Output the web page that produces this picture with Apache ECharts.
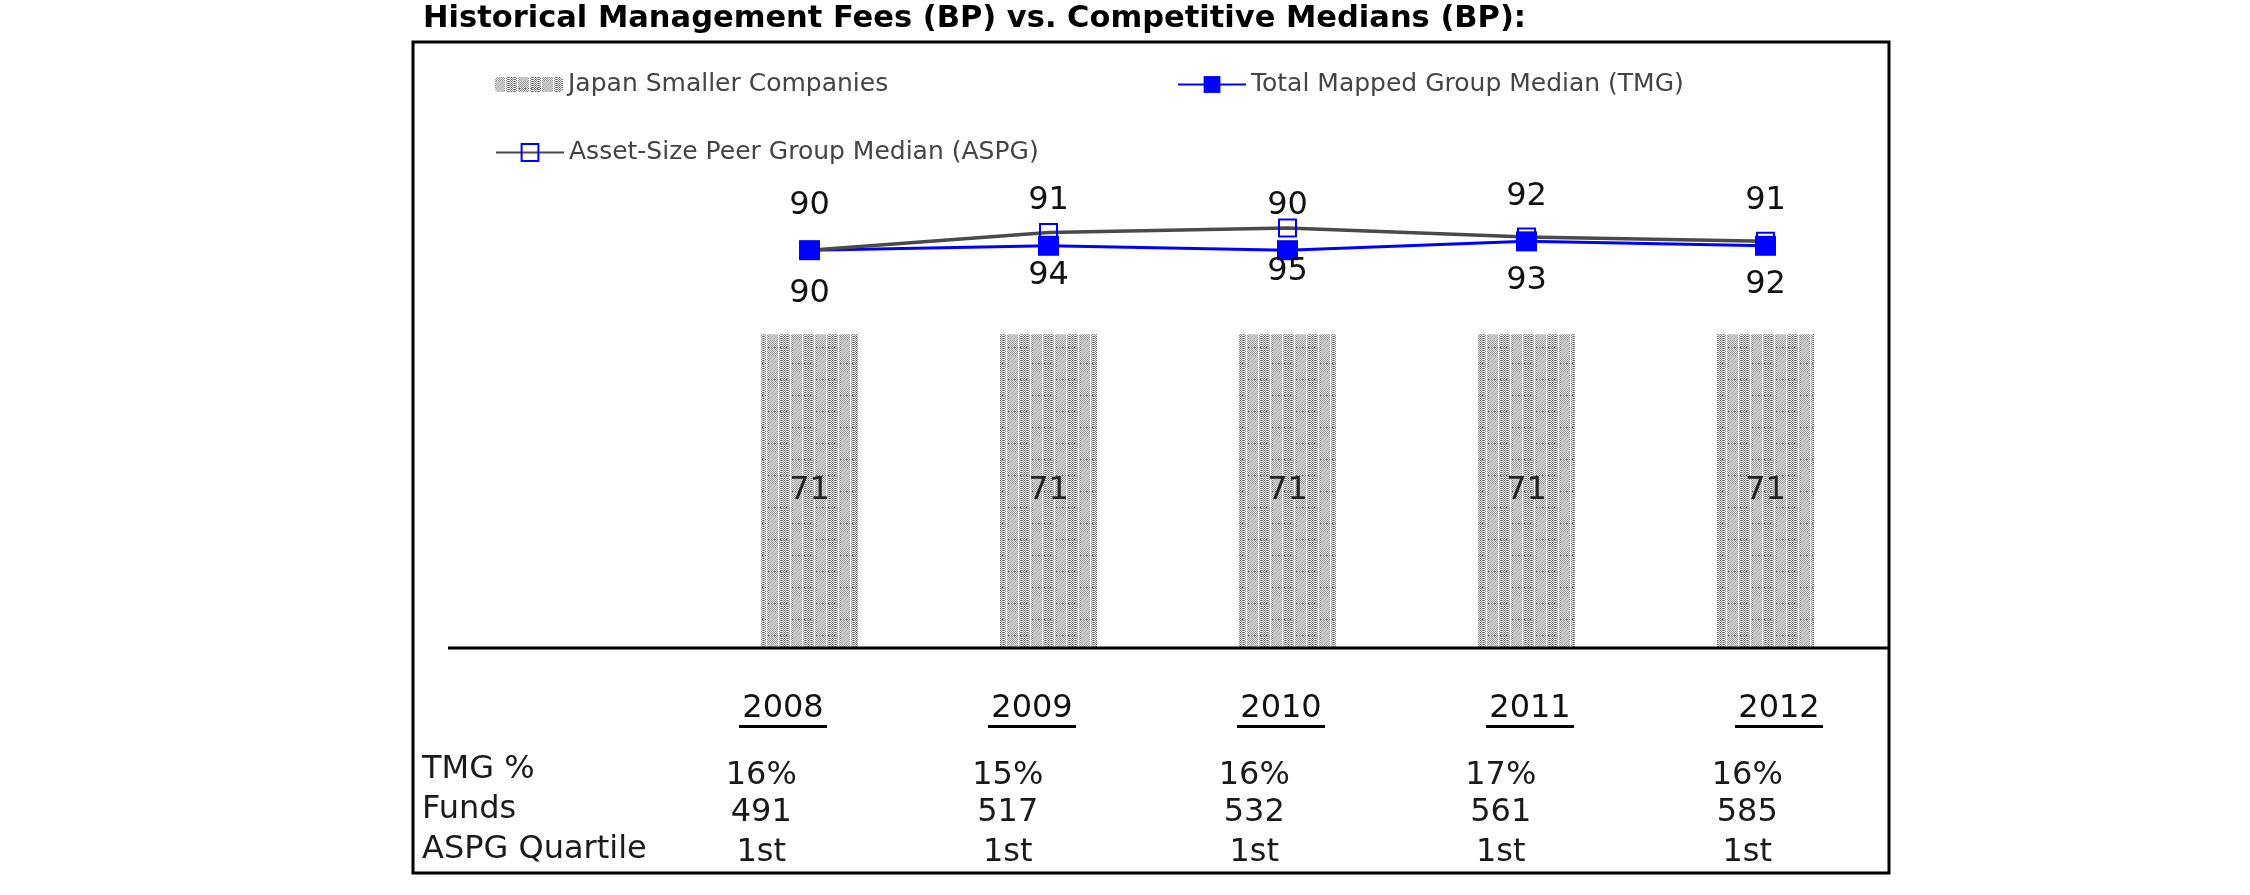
<!DOCTYPE html>
<html><head><meta charset="utf-8">
<script src="https://cdn.jsdelivr.net/npm/echarts@6/dist/echarts.min.js"></script>
<style>html,body{margin:0;padding:0;background:#fff}#c{width:2250px;height:895px}</style>
</head><body><div id="c"></div>
<script>
// ---- data ----
const categories = ['2008', '2009', '2010', '2011', '2012'];
const japanFees = [71, 71, 71, 71, 71];
const tmgMedian = [90, 91, 90, 92, 91];
const aspgMedian = [90, 94, 95, 93, 92];
const tmgPct = ['16%', '15%', '16%', '17%', '16%'];
const funds = ['491', '517', '532', '561', '585'];
const aspgQuartile = ['1st', '1st', '1st', '1st', '1st'];
const rowLabels = ['TMG %', 'Funds', 'ASPG Quartile'];
const seriesNames = ['Japan Smaller Companies', 'Total Mapped Group Median (TMG)', 'Asset-Size Peer Group Median (ASPG)'];
const titleText = 'Historical Management Fees (BP) vs. Competitive Medians (BP):';

// ---- stipple pattern for bars ----
function makePattern() {
  const w = 48, h = 64;
  const c = document.createElement('canvas');
  c.width = w; c.height = h;
  const g = c.getContext('2d');
  const img = g.createImageData(w, h);
  for (let y = 0; y < h; y++) {
    for (let x = 0; x < w; x++) {
      let v;
      const col = x % 24;
      const shift = (x < 24) ? 0 : 16;
      const row = (y + shift) % 32;
      const blob = (col >= 1 && col < 9) && (row >= 4 && row < 20);
      if (col === 10 || col === 22) v = 248;
      else if (col === 13 || col === 16 || col === 19) v = (y % 2 === 0) ? 95 : 238;
      else if (blob) v = ((x + y) % 4 === 0) ? 178 : 200;
      else if (row === 27 && (x % 3 === 0)) v = 90;
      else v = ((x + y) % 2 === 0) ? 145 : 232;
      const i = (y * w + x) * 4;
      img.data[i] = img.data[i + 1] = img.data[i + 2] = v;
      img.data[i + 3] = 255;
    }
  }
  g.putImageData(img, 0, 0);
  return c;
}
const pattern = { image: makePattern(), repeat: 'repeat' };

const FONT = 'DejaVu Sans';
const chart = echarts.init(document.getElementById('c'), null, { renderer: 'canvas' });

const legendText = { fontFamily: FONT, fontSize: 25, color: '#444' };
const tableLabel = { margin: 0, interval: 0, fontFamily: FONT, fontSize: 32, lineHeight: 32, color: '#1a1a1a' };

const option = {
  animation: false,
  backgroundColor: '#fff',
  title: {
    text: titleText, left: 423, top: 4, padding: 0,
    textStyle: { fontFamily: FONT, fontWeight: 'bold', fontSize: 30.5, lineHeight: 30, color: '#000' }
  },
  legend: [
    { data: [seriesNames[0]], left: 495, top: 72, padding: 0, itemWidth: 68, itemHeight: 15, selectedMode: false, textStyle: legendText },
    { data: [seriesNames[1]], left: 1177, top: 72, padding: 0, itemWidth: 68, itemHeight: 21, selectedMode: false, textStyle: legendText },
    { data: [seriesNames[2]], left: 495, top: 140, padding: 0, itemWidth: 68, itemHeight: 21, selectedMode: false, textStyle: legendText }
  ],
  grid: [
    { left: 690, top: 206, width: 1195, height: 442 },
    { left: 658.5, top: 683, width: 1245, height: 10 },
    { left: 638, top: 750, width: 1232.5, height: 10 }
  ],
  xAxis: [
    { gridIndex: 0, type: 'category', position: 'bottom', data: categories, axisLine: { show: false }, axisTick: { show: false }, axisLabel: { show: false }, splitLine: { show: false } },
    { gridIndex: 1, type: 'category', position: 'bottom', data: categories, axisLine: { show: false }, axisTick: { show: false },
      axisLabel: { margin: 0, interval: 0, formatter: v => '{y|' + v + '}\n{u| }',
        rich: { y: { fontFamily: FONT, fontSize: 32, lineHeight: 32, color: '#111' },
                u: { width: 88, height: 3, lineHeight: 3, fontSize: 2, backgroundColor: '#000' } } } },
    { gridIndex: 2, type: 'category', position: 'bottom', data: categories, offset: 0, axisLine: { show: false }, axisTick: { show: false },
      axisLabel: Object.assign({ formatter: (v, i) => tmgPct[i] }, tableLabel) },
    { gridIndex: 2, type: 'category', position: 'bottom', data: categories, offset: 37, axisLine: { show: false }, axisTick: { show: false },
      axisLabel: Object.assign({ formatter: (v, i) => funds[i] }, tableLabel) },
    { gridIndex: 2, type: 'category', position: 'bottom', data: categories, offset: 77, axisLine: { show: false }, axisTick: { show: false },
      axisLabel: Object.assign({ formatter: (v, i) => aspgQuartile[i] }, tableLabel) }
  ],
  yAxis: [
    { gridIndex: 0, type: 'value', min: 0, max: 100, show: false },
    { gridIndex: 1, type: 'value', show: false },
    { gridIndex: 2, type: 'value', show: false }
  ],
  series: [
    { name: seriesNames[0], type: 'bar', xAxisIndex: 0, yAxisIndex: 0, data: japanFees, barWidth: 97,
      itemStyle: { color: pattern },
      label: { show: true, position: 'inside', fontFamily: FONT, fontSize: 32, color: '#222' } },
    { name: seriesNames[1], type: 'line', xAxisIndex: 0, yAxisIndex: 0, data: tmgMedian,
      symbol: 'rect', symbolSize: [21, 20],
      itemStyle: { color: '#0000ff' }, lineStyle: { color: '#0000ff', width: 3 },
      label: { show: true, position: 'top', distance: 19, fontFamily: FONT, fontSize: 32, color: '#111' } },
    { name: seriesNames[2], type: 'line', xAxisIndex: 0, yAxisIndex: 0, data: aspgMedian,
      symbol: 'rect', symbolSize: 17,
      itemStyle: { color: 'rgba(255,255,255,0)', borderColor: '#0000ff', borderWidth: 2 },
      lineStyle: { color: '#4a4a4a', width: 3.5 },
      label: { show: true, position: 'bottom', distance: 18, fontFamily: FONT, fontSize: 32, color: '#111' } }
  ],
  graphic: [
    { type: 'rect', shape: { x: 413, y: 42, width: 1476, height: 831 }, style: { fill: 'none', stroke: '#000', lineWidth: 3 }, silent: true },
    { type: 'line', shape: { x1: 448, y1: 648, x2: 1889, y2: 648 }, style: { stroke: '#000', lineWidth: 3 }, silent: true, z: 10 },
    { type: 'text', style: { text: rowLabels[0], x: 422, y: 770, fontFamily: FONT, fontSize: 32, fill: '#1a1a1a', align: 'left', verticalAlign: 'middle' }, silent: true },
    { type: 'text', style: { text: rowLabels[1], x: 422, y: 810, fontFamily: FONT, fontSize: 32, fill: '#1a1a1a', align: 'left', verticalAlign: 'middle' }, silent: true },
    { type: 'text', style: { text: rowLabels[2], x: 422, y: 850, fontFamily: FONT, fontSize: 32, fill: '#1a1a1a', align: 'left', verticalAlign: 'middle' }, silent: true }
  ]
};
chart.setOption(option);
</script>
</body></html>
